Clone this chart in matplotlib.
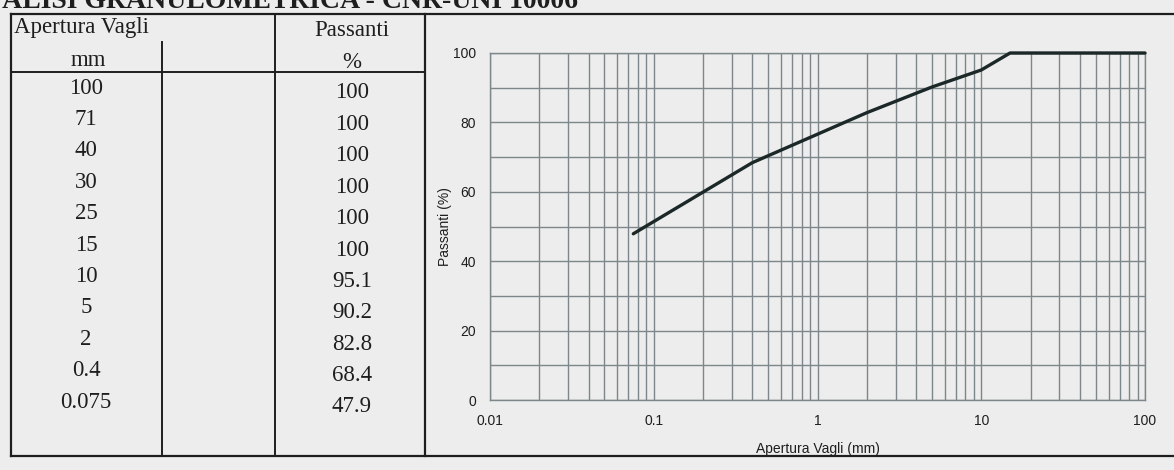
import numpy as np
import matplotlib
matplotlib.use("Agg")
import matplotlib.pyplot as plt
from matplotlib.lines import Line2D
from matplotlib.ticker import FixedLocator, NullFormatter

# table / curve data (Apertura Vagli mm -> Passanti %)
apertura = [100, 71, 40, 30, 25, 15, 10, 5, 2, 0.4, 0.075]
apertura_lbl = ["100", "71", "40", "30", "25", "15", "10", "5", "2", "0.4", "0.075"]
passanti = [100, 100, 100, 100, 100, 100, 95.1, 90.2, 82.8, 68.4, 47.9]
passanti_lbl = ["100", "100", "100", "100", "100", "100", "95.1", "90.2", "82.8", "68.4", "47.9"]

x_ticks = [0.01, 0.1, 1, 10, 100]
x_tick_lbl = ["0.01", "0.1", "1", "10", "100"]
y_ticks = [0, 20, 40, 60, 80, 100]

W, H = 1174, 470
paper = "#ededed"
ink = "#1e1e1e"
grid_c = "#7d878b"

fig = plt.figure(figsize=(W / 100, H / 100), dpi=100, facecolor=paper)


def fx(px):
    return px / W


def fy(py):
    return 1 - py / H


def hline(y, x0, x1, lw=1.6):
    fig.add_artist(Line2D([fx(x0), fx(x1)], [fy(y), fy(y)], color=ink, lw=lw,
                          transform=fig.transFigure))


def vline(x, y0, y1, lw=1.6):
    fig.add_artist(Line2D([fx(x), fx(x)], [fy(y0), fy(y1)], color=ink, lw=lw,
                          transform=fig.transFigure))


serif = ["Liberation Serif", "DejaVu Serif"]
sans = ["Liberation Sans", "DejaVu Sans"]

# title, cut by the top edge of the scan (as in the original sheet)
fig.text(fx(578), fy(8), "ANALISI GRANULOMETRICA - CNR-UNI 10006", ha="right",
         va="baseline", fontsize=20, fontweight="bold", family=serif, color=ink)

# table frame
hline(14, 11, W)
hline(456, 11, W)
vline(11, 14, 456)
hline(72, 11, 425, lw=1.4)
vline(162, 42, 456, lw=1.4)
vline(275, 14, 456, lw=1.4)
vline(425, 14, 456, lw=1.6)

fs = 16.5
fig.text(fx(14), fy(28), "Apertura Vagli", ha="left", va="center", fontsize=fs,
         family=serif, color=ink)
fig.text(fx(88), fy(60), "mm", ha="center", va="center", fontsize=fs, family=serif, color=ink)
fig.text(fx(352), fy(30), "Passanti", ha="center", va="center", fontsize=fs,
         family=serif, color=ink)
fig.text(fx(352), fy(62), "%", ha="center", va="center", fontsize=fs, family=serif, color=ink)

for i, (a, p) in enumerate(zip(apertura_lbl, passanti_lbl)):
    fig.text(fx(86), fy(88 + i * 31.4), a, ha="center", va="center", fontsize=fs,
             family=serif, color=ink)
    fig.text(fx(352), fy(93 + i * 31.4), p, ha="center", va="center", fontsize=fs,
             family=serif, color=ink)

# chart
ax = fig.add_axes([fx(490), fy(400), fx(1145) - fx(490), (400 - 53) / H])
ax.set_facecolor(paper)
ax.set_xscale("log")
ax.set_xlim(0.01, 100)
ax.set_ylim(0, 100)

ax.xaxis.set_major_locator(FixedLocator(x_ticks))
ax.set_xticklabels(x_tick_lbl)
minor = [m * 10.0 ** e for e in range(-2, 2) for m in range(2, 10)]
ax.xaxis.set_minor_locator(FixedLocator(minor))
ax.xaxis.set_minor_formatter(NullFormatter())
ax.yaxis.set_major_locator(FixedLocator(y_ticks))
ax.yaxis.set_minor_locator(FixedLocator(range(10, 100, 20)))

ax.grid(True, which="both", color=grid_c, lw=1.0)
ax.tick_params(which="both", length=0, labelsize=10, colors=ink, pad=10)
for lab in ax.get_xticklabels() + ax.get_yticklabels():
    lab.set_family(sans)
for s in ax.spines.values():
    s.set_color(grid_c)
    s.set_linewidth(1.0)

ax.plot(apertura, passanti, color="#1c2828", lw=2.4, solid_capstyle="round",
        clip_on=False, zorder=3)

ax.set_xlabel("Apertura Vagli (mm)", fontsize=10, family=sans, color=ink, labelpad=10)
ax.set_ylabel("Passanti (%)", fontsize=10, family=sans, color=ink, labelpad=1)

fig.savefig("out.png", dpi=100, facecolor=paper)
